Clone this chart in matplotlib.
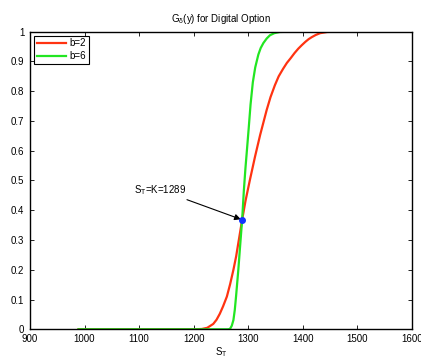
import matplotlib
matplotlib.use("Agg")
import matplotlib.pyplot as plt

plt.rcParams['font.family'] = ['Liberation Sans', 'DejaVu Sans']
plt.rcParams['mathtext.default'] = 'regular'

red_x = [989, 1200, 1215, 1225, 1236, 1242, 1248, 1254, 1261, 1267, 1273, 1278,
         1282, 1289, 1295, 1303, 1312.6, 1322, 1334, 1341, 1349, 1356, 1364, 1371,
         1378, 1385, 1392, 1398, 1405, 1411, 1417, 1424, 1432, 1445, 1460, 1589]
red_y = [0, 0, 0.001, 0.005, 0.018, 0.032, 0.052, 0.077, 0.11, 0.152, 0.20, 0.245,
         0.29, 0.368, 0.43, 0.50, 0.58, 0.653, 0.737, 0.78, 0.82, 0.85, 0.875, 0.895,
         0.911, 0.928, 0.943, 0.954, 0.966, 0.975, 0.982, 0.989, 0.995, 0.999, 1.0, 1.0]

green_x = [989, 1262, 1265, 1267, 1270, 1273, 1275.5, 1277.8, 1282, 1285.2, 1289,
           1292.2, 1295, 1298.3, 1301, 1304.4, 1308.6, 1313, 1318.7, 1323, 1328,
           1334, 1340, 1348, 1358, 1380, 1589]
green_y = [0, 0, 0.0005, 0.002, 0.012, 0.031, 0.065, 0.11, 0.2, 0.278, 0.368,
           0.468, 0.54, 0.614, 0.675, 0.755, 0.83, 0.88, 0.923, 0.945, 0.962,
           0.977, 0.988, 0.995, 0.999, 1.0, 1.0]

labels = ['b=2', 'b=6']
K = 1289
K_val = 0.368
xticks = [900, 1000, 1100, 1200, 1300, 1400, 1500, 1600]
yticks = [0, 0.1, 0.2, 0.3, 0.4, 0.5, 0.6, 0.7, 0.8, 0.9, 1]
ytick_labels = ['0', '0.1', '0.2', '0.3', '0.4', '0.5', '0.6', '0.7', '0.8', '0.9', '1']

fig = plt.figure(figsize=(4.21, 3.60), dpi=100)
ax = fig.add_axes([0.0713, 0.0853, 0.9067, 0.8267])

ax.plot(red_x, red_y, color='#ff3311', lw=1.6, label=labels[0])
ax.plot(green_x, green_y, color='#22e622', lw=1.6, label=labels[1])
ax.plot([K], [K_val], 'o', color='#1133ff', ms=4, zorder=5)

ax.annotate(r'S$_T$=K=1289', xy=(K, K_val), xytext=(1187, 0.468),
            ha='right', va='center', fontsize=7,
            arrowprops=dict(arrowstyle='-|>', color='k', lw=0.8,
                            mutation_scale=9, shrinkA=0, shrinkB=1))

ax.set_xlim(900, 1600)
ax.set_ylim(0, 1)
ax.set_xticks(xticks)
ax.set_yticks(yticks)
ax.set_yticklabels(ytick_labels)
ax.tick_params(direction='in', length=3, width=0.6, labelsize=7,
               top=True, right=True)
ax.tick_params(axis='x', pad=3.5)
ax.tick_params(axis='y', pad=4)
for s in ax.spines.values():
    s.set_linewidth(1.0)

ax.set_title(r'G$_\delta$(y) for Digital Option', fontsize=7, pad=7)
ax.set_xlabel(r'S$_T$', fontsize=7, labelpad=1)

leg = ax.legend(loc='upper left', fontsize=7, fancybox=False, framealpha=1,
                edgecolor='k', borderaxespad=0.4, handlelength=3.0,
                handletextpad=0.4, borderpad=0.3, labelspacing=0.25)
leg.get_frame().set_linewidth(0.8)

fig.savefig('out.png', dpi=100)
